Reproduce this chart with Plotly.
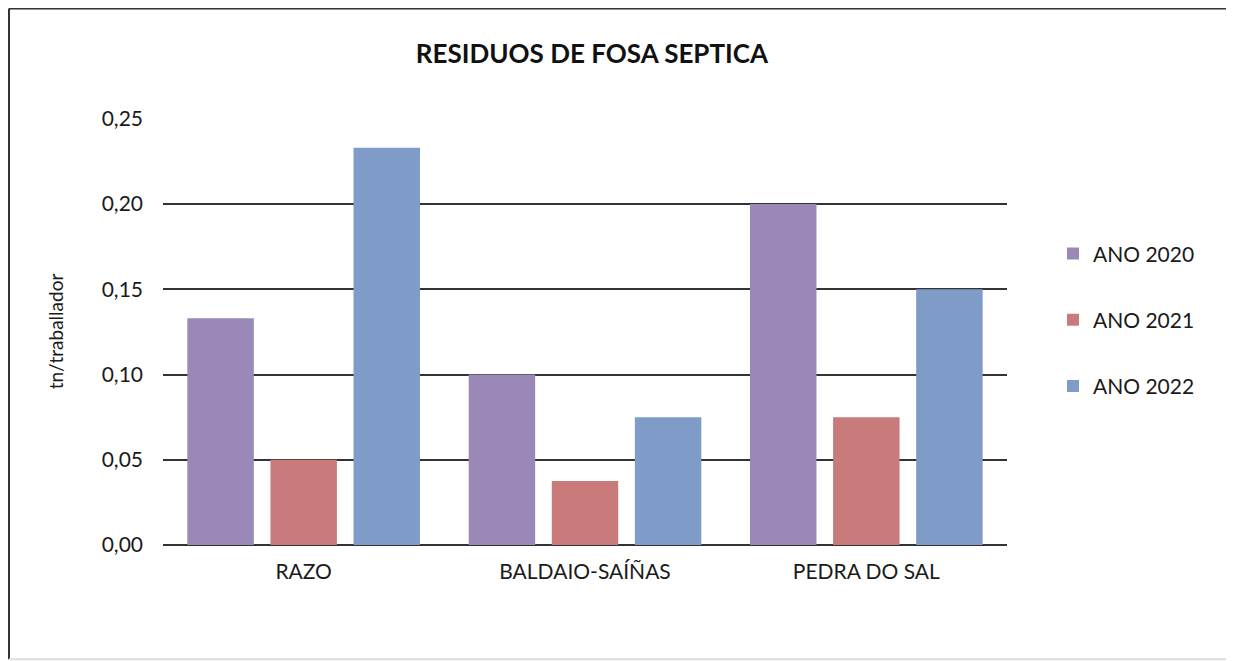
import plotly.graph_objects as go

lugares = ['RAZO', 'BALDAIO-SAÍÑAS', 'PEDRA DO SAL']
ano_2020 = [0.133, 0.100, 0.200]
ano_2021 = [0.050, 0.0375, 0.075]
ano_2022 = [0.233, 0.075, 0.150]
series = ['ANO 2020', 'ANO 2021', 'ANO 2022']
cores = ['#9a89b6', '#c97b7b', '#7f9cc8']
y_ticks = [0, 0.05, 0.10, 0.15, 0.20, 0.25]

fig = go.Figure()
for i, (nome, vals) in enumerate(zip(series, [ano_2020, ano_2021, ano_2022])):
    fig.add_trace(go.Bar(x=lugares, y=vals, name=nome, marker_color=cores[i],
                         marker_line_width=0, legendgroup=nome))

# the page adds an 8px body margin, so the figure is 8px smaller than the window
fig.update_layout(
    width=1226, height=653,
    margin=dict(l=155, r=227, t=110, b=116),
    paper_bgcolor='white', plot_bgcolor='white',
    separators=',.',
    barmode='group', bargap=0.114, bargroupgap=0.2,
    font=dict(family='Lato', size=21, color='#1a1a1a'),
    title=dict(text='<b>RESIDUOS DE FOSA SEPTICA</b>', x=0.4763, xanchor='center',
               y=0.9296, yanchor='middle', font=dict(size=26, color='#111')),
    legend=dict(x=1.0545, y=0.5275, xanchor='left', yanchor='middle',
                tracegroupgap=36, font=dict(size=21), traceorder='grouped'),
    showlegend=True,
)
fig.update_yaxes(range=[0, 0.2505], tickvals=y_ticks, tickformat='.2f',
                 showgrid=True, gridcolor='#333', gridwidth=2,
                 zeroline=True, zerolinecolor='#333', zerolinewidth=2,
                 ticklabelstandoff=19,
                 title=dict(text='tn/traballador', standoff=33, font=dict(size=19)))
fig.update_xaxes(showgrid=False, showline=False, ticks='', ticklabelstandoff=12)

# frame: dark on left/top/right, faint at the bottom
x0, x1, y0, y1 = -0.18246, 1.2654, -0.2673, 1.2567
for (xa, ya, xb, yb, col) in [(x0, y0, x0, y1, '#333'), (x0, y1, x1, y1, '#333'),
                              (x1, y1, x1, y0, '#333'), (x0, y0, x1, y0, '#ddd')]:
    fig.add_shape(type='line', xref='paper', yref='paper', x0=xa, y0=ya, x1=xb, y1=yb,
                  line=dict(color=col, width=2), layer='below')

fig.write_html('out.html')
